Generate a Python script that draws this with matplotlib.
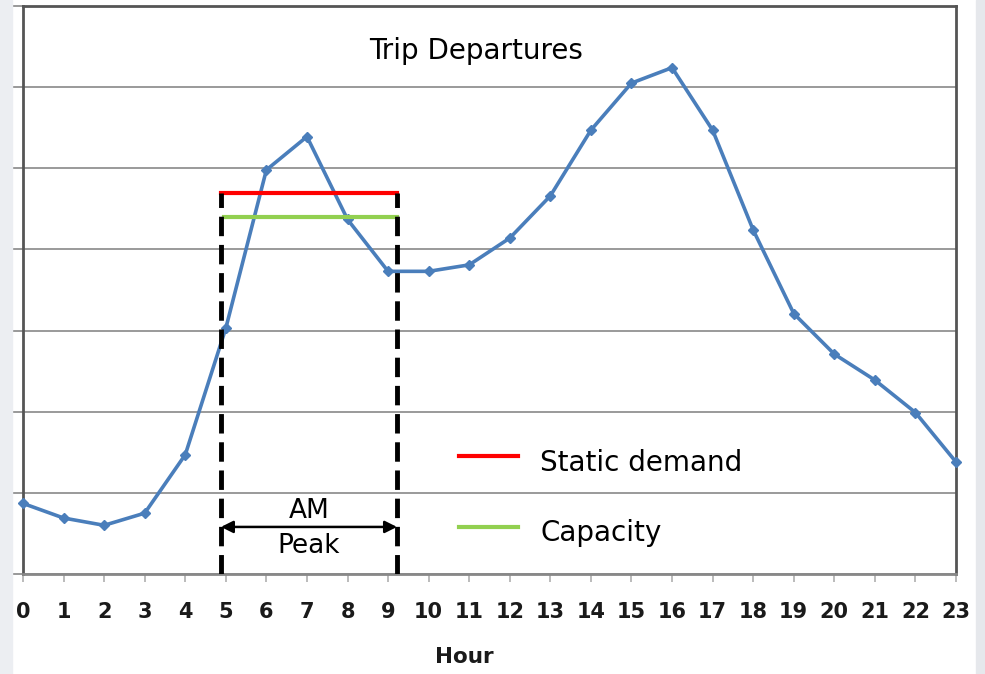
import matplotlib.pyplot as plt
from matplotlib.patches import Rectangle

hours = list(range(24))
departures = [0.87, 0.69, 0.60, 0.75, 1.47, 3.03, 4.98, 5.39, 4.37, 3.73, 3.73, 3.81,
              4.14, 4.66, 5.47, 6.05, 6.24, 5.47, 4.24, 3.21, 2.71, 2.39, 1.99, 1.38]
peak_start, peak_end = 4.88, 9.22
demand_level = 4.69
capacity_level = 4.40
arrow_level = 0.58

fig = plt.figure(figsize=(9.85, 6.74), dpi=100)
fig.patch.set_facecolor('white')
fig.patches.append(Rectangle((0, 0), 12 / 985, 1, transform=fig.transFigure,
                             color='#eceef2', zorder=0))
fig.patches.append(Rectangle((976 / 985, 0), 9 / 985, 1, transform=fig.transFigure,
                             color='#e6e8ec', zorder=0))

ax = fig.add_axes([23 / 985, 100 / 674, 933 / 985, 568 / 674])
ax.set_xlim(0, 23)
ax.set_ylim(0, 7)

for s in ['left', 'top', 'right']:
    ax.spines[s].set_color('#555555')
    ax.spines[s].set_linewidth(2)
ax.spines['bottom'].set_color('#888888')
ax.spines['bottom'].set_linewidth(2)

ax.set_yticks(range(8))
ax.set_yticklabels([])
ax.yaxis.grid(True, color='#9a9a9a', linewidth=1.4)
ax.tick_params(axis='y', length=8, color='#999999', width=1.4)

ax.set_xticks(hours)
ax.set_xticklabels([str(h) for h in hours], fontsize=15, fontweight='bold',
                   color='#1a1a1a', family='DejaVu Sans')
ax.tick_params(axis='x', length=6, color='#bbbbbb', width=1.4, pad=14)

ax.plot(hours, departures, color='#4a7ebb', linewidth=2.6, marker='D',
        markersize=5.5, zorder=3, clip_on=False)

# AM peak box
ax.plot([peak_start, peak_end], [demand_level, demand_level], color='#ff0000',
        linewidth=3, zorder=4)
ax.plot([peak_start + 0.08, peak_end], [capacity_level, capacity_level], color='#92d050',
        linewidth=3, zorder=4)
for xv in [peak_start, peak_end]:
    ax.plot([xv, xv], [0, demand_level], color='black', linewidth=3.5,
            dashes=(4, 1.8), zorder=5)
ax.annotate('', xy=(peak_start, arrow_level), xytext=(peak_end, arrow_level),
            arrowprops=dict(arrowstyle='<|-|>', color='black', lw=1.8,
                            mutation_scale=18, shrinkA=0, shrinkB=0))
mid = (peak_start + peak_end) / 2
ax.text(mid, arrow_level + 0.04, 'AM', ha='center', va='bottom', fontsize=19,
        family='DejaVu Sans')
ax.text(mid, arrow_level - 0.07, 'Peak', ha='center', va='top', fontsize=19,
        family='DejaVu Sans')

ax.text(11.17, 6.45, 'Trip Departures', ha='center', va='center', fontsize=20,
        family='DejaVu Sans')

# legend
ax.plot([10.75, 12.2], [1.45, 1.45], color='#ff0000', linewidth=3)
ax.text(12.75, 1.37, 'Static demand', va='center', fontsize=20, family='DejaVu Sans')
ax.plot([10.75, 12.2], [0.58, 0.58], color='#92d050', linewidth=3)
ax.text(12.75, 0.50, 'Capacity', va='center', fontsize=20, family='DejaVu Sans')

fig.text(464 / 985, 1 - 657 / 674, 'Hour', ha='center', va='center', fontsize=15.5,
         fontweight='bold', color='#1a1a1a')

fig.savefig('out.png', dpi=100)
